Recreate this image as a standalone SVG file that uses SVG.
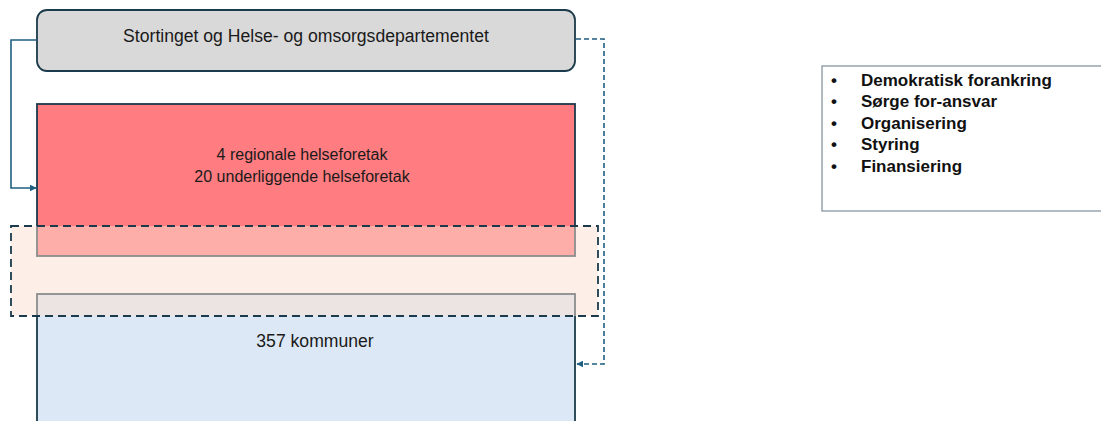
<svg xmlns="http://www.w3.org/2000/svg" width="1101" height="421" viewBox="0 0 1101 421">
<style>
.t{font-family:"Liberation Sans",Arial,sans-serif;font-size:17.6px;fill:#1a1a1a}
.r{font-family:"Liberation Sans",Arial,sans-serif;font-size:16px;fill:#1a1a1a}
.b{font-family:"Liberation Sans",Arial,sans-serif;font-size:17px;font-weight:bold;fill:#111}
.box{stroke:#1b3a4b;stroke-width:1.8}
.conn{fill:none;stroke:#1f5f80;stroke-width:1.6}
</style>
<defs>
<marker id="ah" viewBox="0 0 10 10" refX="9" refY="5" markerWidth="7" markerHeight="7" orient="auto" markerUnits="userSpaceOnUse">
<path d="M0,0 L10,5 L0,10 z" fill="#1f5f80"/>
</marker>
</defs>
<rect width="1101" height="421" fill="#fff"/>
<g id="stortinget">
<rect class="box" x="37" y="10" width="538" height="61" rx="10" fill="#d9d9d9"/>
<text class="t" x="306" y="42" text-anchor="middle">Stortinget og Helse- og omsorgsdepartementet</text>
</g>
<g id="helseforetak">
<rect class="box" x="37" y="104" width="538" height="152" fill="#ff7c80"/>
<text class="r" x="302" y="160" text-anchor="middle">4 regionale helseforetak</text>
<text class="r" x="302" y="182" text-anchor="middle">20 underliggende helseforetak</text>
</g>
<g id="kommuner">
<rect class="box" x="37" y="294" width="538" height="140" fill="#dce8f5"/>
<text class="t" x="315" y="347" text-anchor="middle">357 kommuner</text>
</g>
<g id="overlap">
<rect x="11" y="226" width="587" height="90" fill="#fbdfd1" fill-opacity="0.5" stroke="#1b3a4b" stroke-width="1.8" stroke-dasharray="8,5"/>
</g>
<g id="oppgaver">
<rect x="822" y="66" width="290" height="145" fill="#fff" stroke="#7f8c99" stroke-width="1.2"/>
<text class="b" x="831" y="86">•</text><text class="b" x="861" y="86">Demokratisk forankring</text>
<text class="b" x="831" y="107">•</text><text class="b" x="861" y="107">Sørge for-ansvar</text>
<text class="b" x="831" y="129">•</text><text class="b" x="861" y="129">Organisering</text>
<text class="b" x="831" y="150">•</text><text class="b" x="861" y="150">Styring</text>
<text class="b" x="831" y="172">•</text><text class="b" x="861" y="172">Finansiering</text>
</g>
<g id="connectors">
<path class="conn" d="M37,40 H11 V188 H36" marker-end="url(#ah)"/>
<path class="conn" d="M576,39 H604 V364 H577" stroke-dasharray="5,3" marker-end="url(#ah)"/>
</g>
</svg>
